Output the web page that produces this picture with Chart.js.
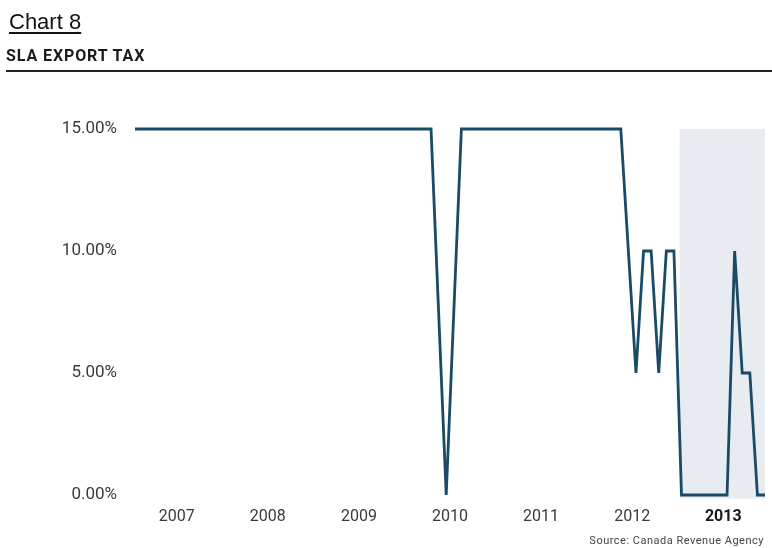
<!DOCTYPE html>
<html>
<head>
  <title>Chart 8 - SLA Export Tax</title>
  <script src="https://cdn.jsdelivr.net/npm/chart.js"></script>
  <style>
    body {
      margin: 0;
      width: 772px;
      height: 548px;
      background: #fff;
      position: relative;
      overflow: hidden;
    }
    .chart-no {
      position: absolute;
      left: 9px;
      top: 11px;
      font: 22px/22px "Liberation Sans", Arial, sans-serif;
      color: #111;
      text-decoration: underline;
      text-underline-offset: 3px;
    }
    .chart-title {
      position: absolute;
      left: 6px;
      top: 48px;
      font: bold 16px/16px Roboto, sans-serif;
      letter-spacing: 0.9px;
      color: #1a1a1a;
    }
    .rule {
      position: absolute;
      left: 6px;
      right: 0;
      top: 70px;
      height: 2px;
      background: #222;
    }
    .wrap {
      position: absolute;
      left: 0;
      top: 0;
      width: 772px;
      height: 548px;
    }
    .source {
      position: absolute;
      right: 8px;
      top: 534px;
      font: 11px/14px Roboto, sans-serif;
      letter-spacing: 0.5px;
      color: #444;
    }
  </style>
</head>
<body>
  <div class="wrap"><canvas id="taxChart"></canvas></div>
  <div class="chart-no">Chart 8</div>
  <div class="chart-title">SLA EXPORT TAX</div>
  <div class="rule"></div>
  <div class="source">Source: Canada Revenue Agency</div>

  <script>
    // monthly SLA export tax rate (%), Jan 2007 - Dec 2013
    const taxRate = [
      15, 15, 15, 15, 15, 15, 15, 15, 15, 15, 15, 15,   // 2007
      15, 15, 15, 15, 15, 15, 15, 15, 15, 15, 15, 15,   // 2008
      15, 15, 15, 15, 15, 15, 15, 15, 15, 15, 15, 15,   // 2009
      15, 15, 15, 15, 7.5, 0, 7.5, 15, 15, 15, 15, 15,  // 2010
      15, 15, 15, 15, 15, 15, 15, 15, 15, 15, 15, 15,   // 2011
      15, 15, 15, 15, 15, 10, 5, 10, 10, 5, 10, 10,     // 2012
      0, 0, 0, 0, 0, 0, 0, 10, 5, 5, 0, 0               // 2013
    ];
    const years = ['2007', '2008', '2009', '2010', '2011', '2012', '2013'];
    const yTicks = [0, 5, 10, 15];
    const highlightYear = '2013';
    // shaded period, in months from Jan 2007
    const shadeFrom = 71.75;
    const shadeTo = 83;

    const lineColor = '#1b4a66';

    const shadePlugin = {
      id: 'shade',
      beforeDatasetsDraw(chart) {
        const { ctx, scales: { x, y } } = chart;
        const left = x.getPixelForValue(shadeFrom);
        const right = x.getPixelForValue(shadeTo);
        const top = y.getPixelForValue(15);
        const bottom = y.getPixelForValue(-0.15);
        ctx.save();
        ctx.fillStyle = '#e8ebf0';
        ctx.fillRect(left, top, right - left, bottom - top);
        ctx.restore();
      }
    };

    const points = taxRate.map((v, i) => ({ x: i, y: v }));

    new Chart(document.getElementById('taxChart'), {
      type: 'line',
      data: {
        datasets: [{
          data: points,
          borderColor: lineColor,
          borderWidth: 2.8,
          borderJoinStyle: 'miter',
          pointRadius: 0,
          tension: 0,
          fill: false,
          clip: 8
        }]
      },
      options: {
        responsive: true,
        maintainAspectRatio: false,
        animation: false,
        layout: { padding: { top: 129, right: 7, bottom: 13, left: 0 } },
        plugins: {
          legend: { display: false },
          tooltip: { enabled: false }
        },
        scales: {
          x: {
            type: 'linear',
            min: 0,
            max: taxRate.length - 1,
            grid: { display: false, drawTicks: false },
            border: { display: false },
            afterBuildTicks: scale => {
              scale.ticks = years.map((_, i) => ({ value: i * 12 + 5.5 }));
            },
            afterFit: scale => { scale.height = 40; },
            ticks: {
              autoSkip: false,
              maxRotation: 0,
              padding: 12,
              color: ctx => years[ctx.index] === highlightYear ? '#1a1a1a' : '#3a3a3a',
              font: ctx => ({
                family: 'Roboto',
                size: 16,
                weight: years[ctx.index] === highlightYear ? 'bold' : 'normal'
              }),
              callback: (value, i) => years[i]
            }
          },
          y: {
            min: 0,
            max: 15,
            grid: { display: false, drawTicks: false },
            border: { display: false },
            afterBuildTicks: scale => {
              scale.ticks = yTicks.map(v => ({ value: v }));
            },
            afterFit: scale => { scale.width = 135; },
            ticks: {
              padding: 18,
              color: '#3a3a3a',
              font: { family: 'Roboto', size: 17 },
              callback: value => value.toFixed(2) + '%'
            }
          }
        }
      },
      plugins: [shadePlugin]
    });
  </script>
</body>
</html>
